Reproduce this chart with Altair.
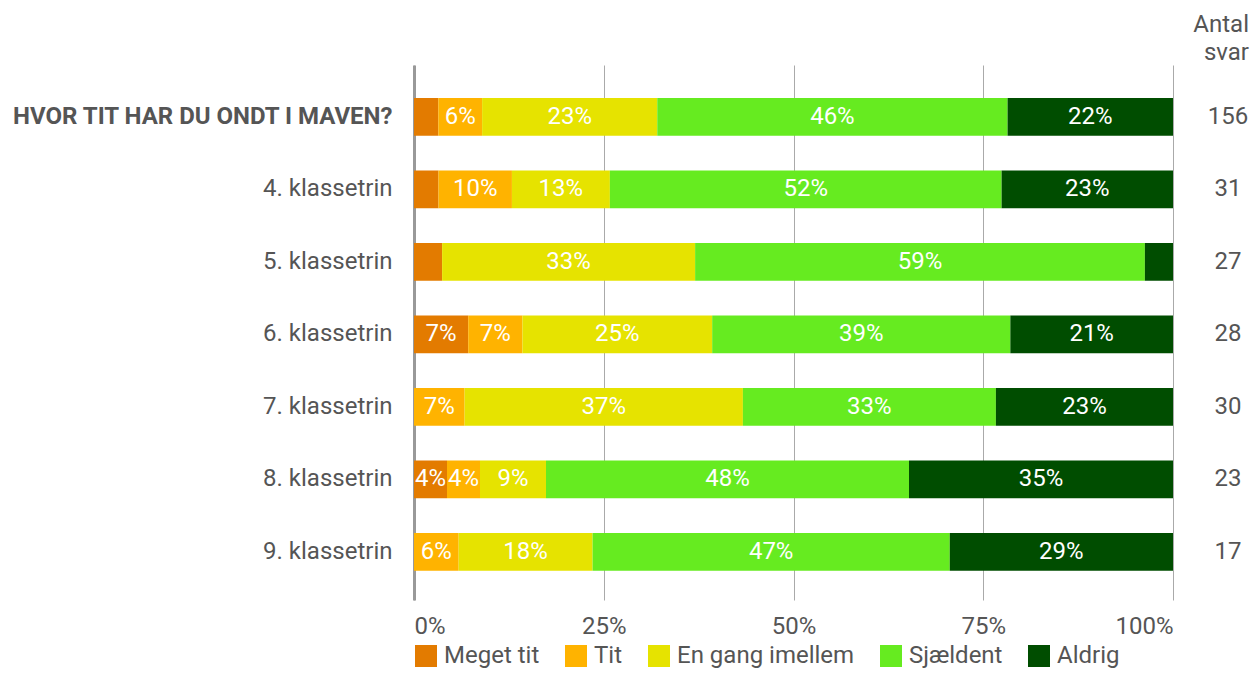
import altair as alt
import pandas as pd

rows = ["HVOR TIT HAR DU ONDT I MAVEN?", "4. klassetrin", "5. klassetrin",
        "6. klassetrin", "7. klassetrin", "8. klassetrin", "9. klassetrin"]
answers = ["Meget tit", "Tit", "En gang imellem", "Sjældent", "Aldrig"]
colors = ["#E37B00", "#FFB300", "#E6E300", "#66EB20", "#004D00"]
meget_tit = [5, 1, 1, 2, 0, 1, 0]
tit = [9, 3, 0, 2, 2, 1, 1]
en_gang_imellem = [36, 4, 9, 7, 11, 2, 3]
sjaeldent = [72, 16, 16, 11, 10, 11, 8]
aldrig = [34, 7, 1, 6, 7, 8, 5]
antal_svar = [156, 31, 27, 28, 30, 23, 17]
x_ticks = [0, 0.25, 0.5, 0.75, 1]
header = "Antal\nsvar"

TXT = "#555555"
FS = 24

series = [meget_tit, tit, en_gang_imellem, sjaeldent, aldrig]
records = []
for i, r in enumerate(rows):
    start = 0.0
    for j, a in enumerate(answers):
        frac = series[j][i] / antal_svar[i]
        records.append({
            "row": r, "answer": a, "order": j,
            "start": start, "end": start + frac, "mid": start + frac / 2,
            "label": f"{round(frac * 100)}%" if frac > 0.04 else "",
        })
        start += frac
df = pd.DataFrame(records)
count_df = pd.DataFrame({"row": rows, "n": [str(v) for v in antal_svar]})
header_df = pd.DataFrame({"t": [header]})

xscale = alt.Scale(domain=[0, 1], nice=False)
yscale = alt.Scale(domain=rows, paddingInner=0.48, paddingOuter=0.43, align=0.53)

xaxis = alt.Axis(values=x_ticks, format=".0%", title=None, grid=True,
                 gridColor="#aaaaaa", gridWidth=1, domain=False, ticks=False,
                 labelPadding=14, labelFontSize=FS, labelColor=TXT,
                 labelFlush=True)
yaxis = alt.Axis(title=None, ticks=False, domainColor="#999999", domainWidth=3,
                 labelPadding=22, labelFontSize=FS, labelColor=TXT,
                 labelLimit=500, grid=False,
                 labelFontWeight={"condition": {"test": f"datum.value == '{rows[0]}'",
                                                "value": "bold"},
                                  "value": "normal"})

base = alt.Chart(df)

bars = base.mark_bar().encode(
    x=alt.X("start:Q", scale=xscale, axis=xaxis),
    x2="end:Q",
    y=alt.Y("row:N", sort=rows, scale=yscale, axis=yaxis),
    color=alt.Color("answer:N", scale=alt.Scale(domain=answers, range=colors),
                    legend=alt.Legend(title=None, orient="none", legendX=0,
                                      legendY=579, direction="horizontal",
                                      symbolType="square", symbolSize=484,
                                      symbolStrokeWidth=0, labelFontSize=FS,
                                      labelColor=TXT, labelOffset=6,
                                      columnPadding=24, labelLimit=400)),
)

labels = base.mark_text(color="white", fontSize=FS).encode(
    x=alt.X("mid:Q", scale=xscale),
    y=alt.Y("row:N", sort=rows, scale=yscale),
    text="label:N",
)

counts = alt.Chart(count_df).mark_text(color=TXT, fontSize=FS).encode(
    x=alt.value(814),
    y=alt.Y("row:N", sort=rows, scale=yscale),
    text="n:N",
)

head = alt.Chart(header_df).mark_text(color=TXT, fontSize=FS, lineBreak="\n",
                                      align="right", baseline="alphabetic",
                                      lineHeight=28).encode(
    x=alt.value(835),
    y=alt.value(-33),
    text="t:N",
)

chart = alt.layer(bars, labels, counts, head).properties(
    width=759, height=535,
    autosize=alt.AutoSizeParams(type="none"),
    padding={"left": 406, "top": 57, "right": 77, "bottom": 71},
).configure(font="Roboto").configure_view(stroke=None)

chart.save("out.html", embed_options={"renderer": "svg", "actions": False})
